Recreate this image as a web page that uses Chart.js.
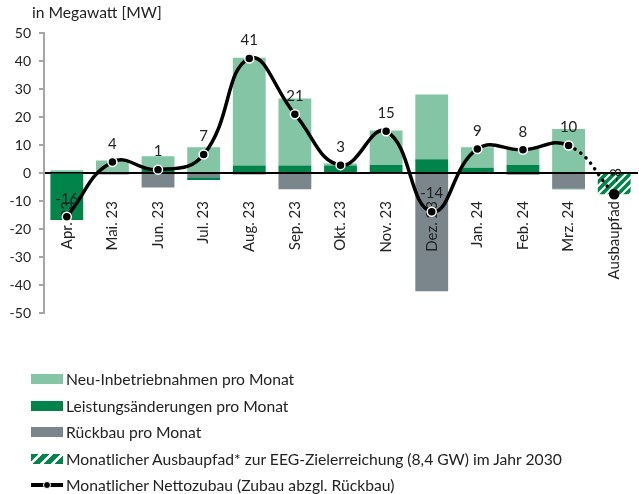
<!DOCTYPE html>
<html>
<head>
<meta charset="utf-8">
<script src="https://cdn.jsdelivr.net/npm/chart.js@4/dist/chart.umd.min.js"></script>
<style>
  body { margin: 0; overflow: hidden; background: #fff; font-family: Lato, "Open Sans", sans-serif; }
  #wrap { position: absolute; left: 0; top: 0; width: 643px; height: 494px; }
  #unit { position: absolute; left: 32px; top: 3px; font-size: 15px; color: #222; white-space: nowrap; }
  .leg { position: absolute; left: 31px; height: 20px; line-height: 20px; font-size: 15px; color: #222; display: flex; align-items: center; white-space: nowrap; }
  .sw { width: 32px; height: 10px; margin-right: 3px; flex: none; }
  .sw.line { position: relative; }
  .sw.line::before { content: ''; position: absolute; left: 0; right: 0; top: 3px; height: 4px; background: #000; }
  .sw.line::after { content: ''; position: absolute; left: 12px; top: 1px; width: 6px; height: 6px; border-radius: 50%; background: #000; border: 1.5px solid #fff; }
</style>
</head>
<body>
<div id="wrap"><canvas id="chart"></canvas></div>
<div id="unit">in Megawatt [MW]</div>
<div class="leg" style="top:369px"><span class="sw" style="background:#83c5a4"></span>Neu-Inbetriebnahmen pro Monat</div>
<div class="leg" style="top:396px"><span class="sw" style="background:#00844a"></span>Leistungsänderungen pro Monat</div>
<div class="leg" style="top:422px"><span class="sw" style="background:#7b868c"></span>Rückbau pro Monat</div>
<div class="leg" id="longLeg" style="top:449px"><span class="sw" style="background:repeating-linear-gradient(135deg,#00844a 0 5px,#fff 5px 8px)"></span>Monatlicher Ausbaupfad* zur EEG-Zielerreichung (8,4 GW) im Jahr 2030</div>
<div class="leg" style="top:475px"><span class="sw line"></span>Monatlicher Nettozubau (Zubau abzgl. Rückbau)</div>
<script>
const categories = ['Apr. 23', 'Mai. 23', 'Jun. 23', 'Jul. 23', 'Aug. 23', 'Sep. 23', 'Okt. 23', 'Nov. 23', 'Dez. 23', 'Jan. 24', 'Feb. 24', 'Mrz. 24', 'Ausbaupfad'];
const neuInbetrieb = [1.0, 4.5, 4.5, 9.2, 38.5, 23.9, 0.7, 12.3, 23.1, 7.3, 5.7, 15.7, null];
const leistung = [-16.5, 0, 1.5, -1.0, 2.7, 2.7, 2.7, 2.9, 4.9, 1.9, 2.9, -0.2, null];
const rueckbau = [-0.3, -0.5, -5.2, -1.5, -0.5, -5.8, -0.4, -0.3, -42.2, -0.4, -0.6, -5.6, null];
const ausbaupfad = [null, null, null, null, null, null, null, null, null, null, null, null, -7.6];
const netto = [-15.6, 3.9, 1.2, 6.6, 40.9, 21.0, 2.8, 14.9, -13.8, 8.6, 8.3, 9.8, -7.6];
const yTicks = [50, 40, 30, 20, 10, 0, -10, -20, -30, -40, -50];

const FONT = 'Lato';

// scale legend / unit text so the widths match the original (Calibri is narrower than Lato)
function fitFont(el, text, target) {
  const g = document.createElement('canvas').getContext('2d');
  g.font = '100px ' + FONT;
  const size = 100 * target / g.measureText(text).width;
  el.style.fontSize = size.toFixed(2) + 'px';
  return size;
}

function makeHatch() {
  const c = document.createElement('canvas');
  c.width = 8; c.height = 8;
  const g = c.getContext('2d');
  g.fillStyle = '#00844a';
  g.fillRect(0, 0, 8, 8);
  g.strokeStyle = '#fff';
  g.lineWidth = 2;
  g.beginPath();
  g.moveTo(-2, 10); g.lineTo(10, -2);
  g.moveTo(-6, 6); g.lineTo(6, -6);
  g.moveTo(2, 14); g.lineTo(14, 2);
  g.stroke();
  return g.createPattern(c, 'repeat');
}

// category labels hang from just under the zero line (top aligned), over the bars, under the net line
const zeroLabels = {
  id: 'zeroLabels',
  beforeDatasetDraw(chart, args) {
    if (args.index !== 0) return;
    const ctx = chart.ctx;
    const xs = chart.scales.x, ys = chart.scales.y;
    const top = ys.getPixelForValue(0) + 28;
    ctx.save();
    ctx.font = '15px ' + FONT;
    ctx.fillStyle = '#222';
    ctx.textAlign = 'left';
    ctx.textBaseline = 'middle';
    categories.forEach((c, i) => {
      const w = ctx.measureText(c).width;
      ctx.save();
      ctx.translate(xs.getPixelForValue(i), top + w);
      ctx.rotate(-Math.PI / 2);
      ctx.fillText(c, 0, 0);
      ctx.restore();
    });
    ctx.restore();
  }
};

const valueLabels = {
  id: 'valueLabels',
  afterDatasetsDraw(chart) {
    const ctx = chart.ctx;
    const meta = chart.getDatasetMeta(0);
    ctx.save();
    ctx.font = '15px ' + FONT;
    ctx.fillStyle = '#222';
    ctx.textAlign = 'center';
    ctx.textBaseline = 'middle';
    meta.data.forEach((pt, i) => {
      const txt = String(Math.round(netto[i]));
      if (i === categories.length - 1) {
        ctx.save();
        ctx.translate(pt.x + 2, pt.y - 19);
        ctx.rotate(-Math.PI / 2);
        ctx.fillText(txt, 0, 0);
        ctx.restore();
      } else {
        ctx.fillText(txt, pt.x, pt.y - 18);
      }
    });
    ctx.restore();
  }
};

const barCommon = { stack: 'bars', barPercentage: 0.72, categoryPercentage: 1, borderWidth: 0 };

function draw() {
  const legSize = fitFont(document.getElementById('longLeg'), 'Monatlicher Ausbaupfad* zur EEG-Zielerreichung (8,4 GW) im Jahr 2030', 498);
  document.querySelectorAll('.leg').forEach(el => { el.style.fontSize = legSize.toFixed(2) + 'px'; });
  fitFont(document.getElementById('unit'), 'in Megawatt [MW]', 130);

  new Chart(document.getElementById('chart'), {
    data: {
      labels: categories,
      datasets: [
        {
          type: 'line',
          label: 'Monatlicher Nettozubau (Zubau abzgl. Rückbau)',
          data: netto,
          stack: 'net',
          borderColor: '#000',
          borderWidth: 3.5,
          tension: 0.45,
          borderCapStyle: 'round',
          pointRadius: 4.5,
          pointBackgroundColor: '#000',
          pointBorderColor: netto.map((v, i) => i === netto.length - 1 ? '#000' : '#fff'),
          pointBorderWidth: 1.5,
          segment: {
            borderDash: ctx => ctx.p1DataIndex === netto.length - 1 ? [0.1, 7] : undefined
          }
        },
        { type: 'bar', label: 'Rückbau pro Monat', data: rueckbau, backgroundColor: '#7b868c', ...barCommon },
        { type: 'bar', label: 'Leistungsänderungen pro Monat', data: leistung, backgroundColor: '#00844a', ...barCommon },
        { type: 'bar', label: 'Neu-Inbetriebnahmen pro Monat', data: neuInbetrieb, backgroundColor: '#83c5a4', ...barCommon },
        { type: 'bar', label: 'Monatlicher Ausbaupfad', data: ausbaupfad, backgroundColor: makeHatch(), ...barCommon }
      ]
    },
    options: {
      responsive: true,
      maintainAspectRatio: false,
      animation: false,
      layout: { padding: { top: 33, bottom: 181, left: 0, right: 0 } },
      plugins: { legend: { display: false }, tooltip: { enabled: false } },
      scales: {
        x: {
          stacked: true,
          position: { y: 0 },
          z: 1,
          grid: { display: false, drawTicks: false },
          border: { display: true, color: '#000', width: 2 },
          ticks: { display: false }
        },
        y: {
          stacked: true,
          min: -50, max: 50,
          afterFit: s => { s.width = 44; },
          afterBuildTicks: s => { s.ticks = yTicks.map(v => ({ value: v })); },
          grid: { drawOnChartArea: false, drawTicks: true, tickLength: 5, color: '#a6a6a6', lineWidth: 2 },
          border: { color: '#a6a6a6', width: 2 },
          ticks: { padding: 8, color: '#222', font: { family: FONT, size: 14 } }
        }
      }
    },
    plugins: [zeroLabels, valueLabels]
  });
}

if (document.fonts && document.fonts.load) {
  document.fonts.load('15px ' + FONT).then(draw, draw);
} else {
  draw();
}
</script>
</body>
</html>
